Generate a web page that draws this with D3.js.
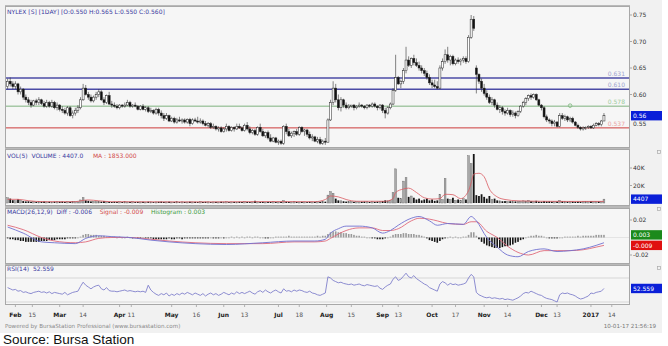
<!DOCTYPE html>
<html>
<head>
<meta charset="utf-8">
<script src="https://cdn.jsdelivr.net/npm/d3@7/dist/d3.min.js"></script>
<style>
body { margin: 0; background: #fff; }
svg { display: block; font-family: "DejaVu Sans", sans-serif; }
</style>
</head>
<body>
<script>
// daily candles, Feb 2016 - 10 Jan 2017 (index = trading day)
var opens = [
.615,.625,.620,.615,.620,.605,.610,.595,.590,.585, .580,.588,.585,.590,.583,.578,.585,.578,.585,.575,
.580,.572,.570,.565,.575,.560,.565,.570,.575,.590, .612,.600,.595,.588,.595,.600,.605,.590,.585,.598,
.582,.580,.578,.575,.580,.578,.580,.585,.578,.580, .578,.572,.578,.572,.575,.568,.570,.565,.572,.565,
.560,.555,.560,.550,.555,.548,.552,.550,.552,.548, .553,.545,.552,.550,.548,.550,.545,.542,.545,.538,
.540,.535,.537,.530,.535,.540,.532,.538,.535,.540, .537,.532,.542,.535,.528,.532,.525,.538,.530,.522,
.528,.518,.512,.518,.510,.512,.508,.540,.530,.522, .527,.530,.525,.538,.530,.533,.525,.518,.520,.512,
.515,.508,.512,.510,.552,.585,.612,.590,.575,.590, .580,.575,.578,.580,.575,.578,.580,.578,.575,.580,
.578,.582,.578,.575,.580,.570,.565,.575,.582,.608, .632,.620,.625,.645,.665,.655,.668,.660,.655,.650,
.645,.640,.632,.622,.618,.615,.612,.650,.662,.675, .665,.672,.658,.665,.662,.665,.668,.662,.708,.742,
.650,.638,.625,.612,.602,.595,.585,.590,.580,.572, .575,.568,.565,.570,.562,.565,.560,.568,.578,.585,
.592,.598,.595,.600,.590,.580,.575,.558,.552,.550, .545,.548,.540,.560,.555,.558,.552,.555,.548,.542,
.538,.535,.537,.538,.540,.537,.542,.545,.543,.550];
var highs = [
.630,.632,.625,.625,.622,.615,.612,.600,.595,.590, .590,.592,.595,.592,.588,.590,.588,.590,.588,.585,
.582,.578,.575,.578,.578,.570,.575,.580,.595,.620, .618,.605,.600,.598,.605,.610,.608,.595,.600,.605,
.588,.585,.582,.582,.582,.585,.590,.588,.582,.585, .580,.580,.582,.578,.578,.575,.572,.575,.575,.570,
.565,.565,.562,.558,.558,.556,.558,.555,.555,.555, .556,.555,.556,.558,.555,.553,.550,.548,.548,.545,
.542,.540,.540,.538,.545,.542,.540,.540,.545,.545, .540,.545,.548,.540,.535,.535,.540,.545,.535,.530,
.532,.525,.520,.520,.515,.515,.542,.545,.535,.530, .532,.535,.540,.540,.535,.535,.530,.525,.522,.520,
.520,.515,.518,.555,.590,.625,.620,.600,.595,.592, .585,.582,.580,.582,.580,.585,.582,.580,.582,.582,
.585,.585,.580,.582,.582,.575,.578,.585,.612,.675, .635,.628,.650,.690,.672,.670,.675,.668,.662,.655,
.650,.645,.638,.628,.628,.625,.655,.668,.685,.690, .675,.675,.668,.670,.668,.672,.672,.712,.750,.748,
.655,.640,.630,.620,.608,.600,.595,.592,.585,.580, .578,.572,.575,.572,.570,.568,.570,.580,.588,.595,
.600,.602,.602,.602,.592,.582,.578,.562,.555,.553, .552,.550,.565,.565,.562,.560,.558,.558,.550,.545,
.540,.540,.540,.542,.542,.545,.548,.548,.552,.565];
var lows = [
.610,.615,.610,.610,.600,.600,.590,.585,.580,.575, .578,.580,.580,.580,.575,.575,.575,.575,.572,.570,
.568,.565,.562,.560,.558,.555,.560,.565,.572,.588, .598,.590,.585,.585,.590,.595,.588,.580,.582,.580,
.575,.575,.572,.572,.575,.575,.578,.575,.575,.576, .570,.570,.570,.568,.565,.565,.562,.562,.560,.555,
.550,.552,.548,.548,.545,.545,.548,.545,.545,.545, .540,.543,.548,.545,.545,.542,.540,.538,.535,.535,
.532,.530,.528,.528,.530,.530,.530,.530,.533,.535, .530,.530,.532,.525,.525,.522,.522,.528,.520,.518,
.515,.510,.510,.508,.505,.505,.505,.525,.520,.518, .520,.522,.522,.528,.522,.520,.515,.512,.510,.508,
.505,.505,.505,.510,.550,.580,.585,.570,.568,.575, .572,.572,.575,.570,.572,.575,.575,.572,.572,.575,
.575,.575,.570,.572,.565,.555,.562,.572,.580,.605, .618,.612,.620,.640,.652,.650,.655,.652,.645,.640,
.635,.628,.618,.612,.612,.610,.610,.645,.658,.660, .655,.655,.655,.658,.655,.660,.658,.660,.705,.720,
.602,.620,.605,.598,.590,.582,.580,.575,.570,.565, .562,.560,.562,.558,.558,.555,.558,.565,.575,.580,
.588,.590,.592,.588,.578,.570,.555,.548,.545,.540, .540,.538,.538,.552,.550,.548,.548,.545,.540,.535,
.532,.532,.533,.535,.535,.535,.540,.540,.540,.550];
var closes = [
.625,.620,.615,.620,.605,.610,.595,.590,.585,.580, .588,.585,.590,.583,.578,.585,.578,.585,.575,.580,
.572,.570,.565,.575,.560,.565,.570,.575,.590,.612, .600,.595,.588,.595,.600,.605,.590,.585,.598,.582,
.580,.578,.575,.580,.578,.580,.585,.578,.580,.578, .572,.578,.572,.575,.568,.570,.565,.572,.565,.560,
.555,.560,.550,.555,.548,.552,.550,.552,.548,.553, .545,.552,.550,.548,.550,.545,.542,.545,.538,.540,
.535,.537,.530,.535,.540,.532,.538,.535,.540,.537, .532,.542,.535,.528,.532,.525,.538,.530,.522,.528,
.518,.512,.518,.510,.512,.508,.540,.530,.522,.527, .530,.525,.538,.530,.533,.525,.518,.520,.512,.515,
.508,.512,.510,.552,.585,.612,.590,.575,.590,.580, .575,.578,.580,.575,.578,.580,.578,.575,.580,.578,
.582,.578,.575,.580,.570,.565,.575,.582,.608,.632, .620,.625,.645,.665,.655,.668,.660,.655,.650,.645,
.640,.632,.622,.618,.615,.612,.650,.662,.675,.665, .672,.658,.665,.662,.665,.668,.662,.708,.742,.725,
.638,.625,.612,.602,.595,.585,.590,.580,.572,.575, .568,.565,.570,.562,.565,.560,.568,.578,.585,.592,
.598,.595,.600,.590,.580,.575,.558,.552,.550,.545, .548,.540,.560,.555,.558,.552,.555,.548,.542,.538,
.535,.537,.538,.540,.537,.542,.545,.543,.550,.560];
var volumes = [
6000,5000,3200,2600,4200,3000,2200,1800,2000,1500, 1700,1400,1600,1500,1800,1300,1500,1200,1600,1400,
1500,1700,1300,1600,1400,1800,1500,1300,3500,6200, 3000,2500,1800,2000,1500,1400,1600,2200,1500,1300,
1200,1500,1300,1400,1100,1600,1200,1300,1500,1100, 1300,1200,1400,1000,1500,1300,1100,1200,1400,1600,
1300,1200,1500,1100,1200,1400,1000,1300,1200,1100, 1500,1200,1300,1100,1600,1200,1400,1300,1000,1200,
1300,1100,1500,1200,1400,1000,1200,1300,1100,1400, 1200,1500,1300,1100,1200,2500,1300,1200,1400,1000,
1300,1200,1500,1100,1200,1400,2800,1600,1300,1200, 1500,1200,1100,1300,1200,1000,1400,1200,1300,1500,
1400,1600,1500,9000,13000,11000,5000,3000,2500,2000, 1600,1500,1800,1400,1600,1300,1500,1700,1400,1200,
1500,1300,1600,1800,2200,3000,2500,3000,12000,39000, 6000,5000,25000,29000,7000,8000,6000,4000,5000,3000,
4000,5000,3000,4000,2500,3000,10000,4000,28000,5000, 4000,6000,3000,4000,3000,5000,4000,54000,45000,56000,
9000,8000,10000,7000,5000,8000,4000,5000,3000,2500, 2000,2200,1800,2000,1500,1800,1600,2000,2500,2200,
3000,2000,1800,2500,1600,1500,2200,1800,2000,1600, 1500,1700,3000,2000,1800,1600,1500,1700,1400,1600,
1500,1800,1600,1400,2000,1700,1500,1800,1600,4407];
// VOL MA(5) read at a few days
var maDays = [0,4,8,14,26,29,31,35,40,60, 80,100,118,122,124,127,130,134,145,148, 149,152,154,157,160,163,166,168,171,174,
  177,178,179,181,183,185,188,191,196,205, 215,229];
var maVals = [4200,4200,2600,1500,1500,3000,3500,2500,1500,1300, 1300,1600,1500,4000,8000,7000,4000,2000,2000,5000,
  12000,16000,17000,12000,6000,4500,5000,10000,9500,5000, 14000,23000,33000,34000,30000,16000,7000,4000,2500,2000, 1800,1853];
// MACD(26,12,9) diff / signal read at a few days
var macdDays = [0,6,13,18,26,30,35,40,47,55, 62,72,84,98,110,118,122,124,127,130, 135,140,144,147,150,155,158,162,165,169,
  175,178,180,184,188,192,196,200,206,211, 216,221,226,229];
var macdDiff = [.012,.005,-.005,-.006,-.007,-.001,.002,.001,0,-.003, -.005,-.007,-.008,-.006,-.004,-.004,-.002,.005,.010,.013,
  .013,.011,.005,.008,.014,.022,.024,.019,.014,.016, .015,.024,.019,0,-.011,-.020,-.022,-.016,-.013,-.016, -.015,-.013,-.009,-.006];
var macdSignal = [.014,.009,0,-.004,-.006,-.005,-.001,0,0,-.002, -.004,-.006,-.007,-.007,-.005,-.005,-.004,-.001,.004,.008,
  .011,.011,.008,.008,.010,.019,.022,.021,.019,.016, .015,.018,.018,.007,0,-.010,-.017,-.020,-.015,-.015, -.015,-.014,-.011,-.009];
var macdHist = [
-.001,-.002,-.002,-.003,-.003,-.004,-.004,-.005,-.005,-.005, -.005,-.005,-.005,-.004,-.004,-.004,-.003,-.003,-.003,-.002,
-.002,-.002,-.002,-.001,-.001,-.001,-.001,0,.001,.003, .004,.004,.003,.003,.003,.002,.002,.002,.001,.001,
.001,.001,0,.001,0,0,.001,0,-.001,0, -.001,-.001,0,-.001,-.001,-.001,-.002,-.002,-.002,-.002,
-.002,-.002,-.001,-.002,-.002,-.001,-.001,-.002,-.001,-.001, -.001,-.001,-.001,-.001,-.001,-.001,-.001,-.001,0,-.001,
-.001,-.001,0,-.001,0,0,.001,0,.001,0, .001,0,.001,.001,0,.001,.001,0,0,-.001,
-.001,0,0,.001,.001,.001,.001,.001,.002,.001, .001,.001,.001,.001,.001,.001,.001,.001,.001,.002,
.001,.002,.002,.004,.006,.007,.007,.006,.006,.005, .005,.004,.004,.003,.002,.002,.001,.001,0,0,
-.001,-.001,-.002,-.002,-.002,-.001,0,.001,.003,.004, .004,.004,.005,.005,.004,.004,.004,.003,.003,.002,
.001,-.001,-.003,-.004,-.005,-.006,-.004,-.002,-.001,0, .001,0,.001,0,0,.001,.001,.003,.006,.006,
.002,-.002,-.005,-.007,-.009,-.010,-.011,-.012,-.012,-.012, -.011,-.010,-.010,-.009,-.008,-.006,-.005,-.003,-.002,0,
.001,.002,.002,.003,.002,.002,.001,0,-.001,-.001, -.001,-.001,0,0,.001,.001,.001,.001,.001,.002,
.001,.002,.002,.002,.002,.002,.003,.003,.003,.003];
var rsi = [
54,52,50,51,48,49,46,47,45,44, 46,47,48,46,47,45,47,44,46,45, 44,43,46,42,44,46,47,48,56,63,
58,55,52,55,57,58,52,50,54,49, 48,48,47,48,49,50,48,49,48,47, 48,47,48,46,58,50,46,43,41,44,
42,45,40,43,41,44,42,45,43,46, 44,42,45,43,41,44,40,43,45,42, 44,41,43,46,44,42,45,43,47,44,
46,44,46,48,45,43,47,49,46,50, 47,45,48,50,47,45,52,48,49,47, 50,48,50,49,47,46,48,45,44,42,
41,43,45,72,70,66,64,62,63,61, 60,59,60,58,59,60,58,57,59,58, 57,56,57,53,51,55,58,60,68,72,
66,68,73,78,72,70,74,69,66,63, 60,58,54,52,50,48,60,64,62,58, 61,59,60,58,59,60,62,70,76,72,
46,42,40,38,37,38,36,37,36,35, 36,34,35,34,33,35,37,40,44,46, 45,48,46,44,42,41,38,36,35,34,
32,30,42,45,44,45,43,42,40,37, 35,36,38,40,45,44,46,47,48,52.559];

// horizontal levels on the price panel
var levels = [0.631, 0.610, 0.578, 0.537];
var levelColors = ["#4b4ba6", "#4b4ba6", "#7fb27f", "#cc3b3b"];
var levelTextColors = ["#9fa3cf", "#9fa3cf", "#9ccc9c", "#eaa3a3"];
var priceTicks = [0.60, 0.65, 0.70, 0.75];
var volTicks = [20000, 40000];
var macdTicks = [0.02, -0.02];

// x axis labels (day index of label centre)
var tickDays = [3,9.5,20,29,43,47.5,63,72.5,83,91,104,112,122.5,132,144,150,163,172,183,192,205,211,224,232];
var tickLabels = ["Feb","15","Mar","14","Apr","11","May","16","Jun","13","Jul","18","Aug","15","Sep","13","Oct","17","Nov","14","Dec","13","2017","14"];

var w = 668, h = 346;
var svg = d3.select("body").append("svg").attr("width", w).attr("height", h);

var x = d3.scaleLinear().domain([-1, 239]).range([5, 630]);
var yPrice = d3.scaleLinear().domain([0.5, 0.75]).range([147.5, 15]);
var yVol = d3.scaleLinear().domain([0, 40000]).range([203, 168]);
var yMacd = d3.scaleLinear().domain([-0.02, 0.02]).range([255, 220]);
var yRsi = d3.scaleLinear().domain([30, 70]).range([302, 278]);

var days = d3.range(closes.length);

// background
svg.append("rect").attr("x", 0).attr("y", 0).attr("width", 662).attr("height", 333).attr("fill", "#f1f1f1");
svg.append("rect").attr("x", 5).attr("y", 5).attr("width", 625).attr("height", 300).attr("fill", "#b9b9b9");

var panels = [[6, 147], [149, 205], [208, 263], [265, 304]];
svg.selectAll("rect.panel")
   .data(panels)
   .enter()
   .append("rect")
   .attr("class", "panel")
   .attr("x", 5.5)
   .attr("y", function(d) { return d[0] + 0.5; })
   .attr("width", 624)
   .attr("height", function(d) { return d[1] - d[0]; })
   .attr("fill", "#f6f6f6")
   .attr("stroke", "#a8a8a8")
   .attr("stroke-width", 1);

// little square icons at the right of the sub panels
svg.selectAll("rect.icon")
   .data([150, 207, 266])
   .enter()
   .append("rect")
   .attr("x", 657.5).attr("y", function(d) { return d + 0.5; })
   .attr("width", 3).attr("height", 3)
   .attr("fill", "none").attr("stroke", "#aaa").attr("stroke-width", 0.7);

// ---------- price panel ----------
svg.selectAll("line.level")
   .data(levels)
   .enter()
   .append("line")
   .attr("x1", 6).attr("x2", 629)
   .attr("y1", function(d) { return yPrice(d); })
   .attr("y2", function(d) { return yPrice(d); })
   .attr("stroke", function(d, i) { return levelColors[i]; })
   .attr("stroke-width", function(d, i) { return i < 2 ? 1.6 : 1; });

svg.selectAll("text.level")
   .data(levels)
   .enter()
   .append("text")
   .text(function(d) { return d.toFixed(3); })
   .attr("x", 625)
   .attr("y", function(d) { return yPrice(d) - 2; })
   .attr("text-anchor", "end")
   .attr("font-size", "6px")
   .attr("fill", function(d, i) { return levelTextColors[i]; });

svg.selectAll("line.wick")
   .data(days)
   .enter()
   .append("line")
   .attr("x1", function(d) { return x(d); })
   .attr("x2", function(d) { return x(d); })
   .attr("y1", function(d) { return yPrice(highs[d]); })
   .attr("y2", function(d) { return yPrice(lows[d]); })
   .attr("stroke", "#333")
   .attr("stroke-width", 0.6);

svg.selectAll("rect.body")
   .data(days)
   .enter()
   .append("rect")
   .attr("x", function(d) { return x(d) - 1; })
   .attr("width", 2)
   .attr("y", function(d) { return yPrice(Math.max(opens[d], closes[d])); })
   .attr("height", function(d) { return Math.max(0.7, Math.abs(yPrice(opens[d]) - yPrice(closes[d]))); })
   .attr("fill", function(d) { return closes[d] >= opens[d] ? "#fff" : "#111"; })
   .attr("stroke", "#222")
   .attr("stroke-width", 0.5);

// green marker on the 0.578 line
svg.append("circle")
   .attr("cx", x(216)).attr("cy", yPrice(0.578) - 0.5).attr("r", 1.8)
   .attr("fill", "none").attr("stroke", "#8bbf8b").attr("stroke-width", 1);

// ---------- volume panel ----------
svg.selectAll("rect.vol")
   .data(days)
   .enter()
   .append("rect")
   .attr("x", function(d) { return x(d) - 0.9; })
   .attr("width", 1.8)
   .attr("y", function(d) { return yVol(volumes[d]); })
   .attr("height", function(d) { return yVol(0) - yVol(volumes[d]); })
   .attr("fill", function(d) { return closes[d] >= opens[d] ? "#a9a9a9" : "#151515"; })
   .attr("stroke", function(d) { return closes[d] >= opens[d] ? "#666" : "none"; })
   .attr("stroke-width", 0.4);

var maLine = d3.line()
   .x(function(d, i) { return x(maDays[i]); })
   .y(function(d) { return yVol(d); })
   .curve(d3.curveMonotoneX);
svg.append("path").attr("d", maLine(maVals)).attr("fill", "none").attr("stroke", "#d9595f").attr("stroke-width", 0.8);

// ---------- MACD panel ----------
svg.append("line").attr("x1", 6).attr("x2", 629).attr("y1", yMacd(0)).attr("y2", yMacd(0))
   .attr("stroke", "#d8d8d8").attr("stroke-width", 0.6);
svg.selectAll("rect.hist")
   .data(days)
   .enter()
   .append("rect")
   .attr("x", function(d) { return x(d) - 0.8; })
   .attr("width", 1.6)
   .attr("y", function(d) { return Math.min(yMacd(0), yMacd(macdHist[d])); })
   .attr("height", function(d) { return Math.max(0.8, Math.abs(yMacd(macdHist[d]) - yMacd(0))); })
   .attr("fill", function(d) { return macdHist[d] >= 0 ? "#9a9a9a" : "#161616"; });

var macdLine = d3.line()
   .x(function(d, i) { return x(macdDays[i]); })
   .y(function(d) { return yMacd(d); })
   .curve(d3.curveMonotoneX);
svg.append("path").attr("d", macdLine(macdSignal)).attr("fill", "none").attr("stroke", "#e06a7a").attr("stroke-width", 0.9);
svg.append("path").attr("d", macdLine(macdDiff)).attr("fill", "none").attr("stroke", "#7070d0").attr("stroke-width", 0.9);

// ---------- RSI panel ----------
svg.selectAll("line.rsiLevel")
   .data([70, 30])
   .enter()
   .append("line")
   .attr("x1", 6).attr("x2", 629)
   .attr("y1", function(d) { return yRsi(d); })
   .attr("y2", function(d) { return yRsi(d); })
   .attr("stroke", "#cfcfcf").attr("stroke-width", 0.8);

var rsiLine = d3.line()
   .x(function(d, i) { return x(i); })
   .y(function(d) { return yRsi(d); });
svg.append("path").attr("d", rsiLine(rsi)).attr("fill", "none").attr("stroke", "#8080cc").attr("stroke-width", 0.9);

// ---------- right hand axis labels ----------
function rightLabel(txt, yy) {
  svg.append("line").attr("x1", 630).attr("x2", 632).attr("y1", yy).attr("y2", yy).attr("stroke", "#777").attr("stroke-width", 0.6);
  svg.append("text").text(txt).attr("x", 633).attr("y", yy + 2.2).attr("font-size", "6px").attr("fill", "#333");
}
priceTicks.forEach(function(d) { rightLabel(d.toFixed(2), yPrice(d)); });
volTicks.forEach(function(d) { rightLabel((d / 1000) + "K", yVol(d)); });
macdTicks.forEach(function(d) { rightLabel(d.toFixed(2), yMacd(d)); });
// 0.55 sits just under the last-price box
svg.append("text").text("0.55").attr("x", 633).attr("y", yPrice(0.55) + 4.6).attr("font-size", "6px").attr("fill", "#333");

function valueBox(txt, yy, color) {
  svg.append("rect").attr("x", 631).attr("y", yy - 4.7).attr("width", 31).attr("height", 9.4).attr("fill", color);
  svg.append("text").text(txt).attr("x", 633).attr("y", yy + 2.2).attr("font-size", "6px").attr("fill", "#fff");
}
valueBox("0.56", yPrice(closes[closes.length - 1]), "#0a1fd8");
valueBox("4407", yVol(volumes[volumes.length - 1]), "#0a1fd8");
valueBox("0.003", yMacd(macdHist[macdHist.length - 1]), "#1b8a1b");
valueBox("-0.009", yMacd(macdSignal[macdSignal.length - 1]), "#e01010");
valueBox("52.559", yRsi(rsi[rsi.length - 1]), "#0a1fd8");

// ---------- panel titles ----------
function title(parts, yy) {
  var t = svg.append("text").attr("x", 7).attr("y", yy).attr("font-size", "6px");
  parts.forEach(function(p) {
    t.append("tspan").text(p[0]).attr("fill", p[1]).attr("xml:space", "preserve");
  });
}
title([["NYLEX [S] [1DAY] [O:0.550 H:0.565 L:0.550 C:0.560]", "#3a3aa0"]], 14);
title([["VOL(5)  VOLUME : 4407.0     ", "#3a3aa0"], ["MA : 1853.000", "#d24a4a"]], 157.5);
title([["MACD(26,12,9)  Diff : -0.006    ", "#3a3aa0"], ["Signal : -0.009    ", "#d24a4a"], ["Histogram : 0.003", "#3c9a3c"]], 214);
title([["RSI(14)  52.559", "#3a3aa0"]], 271);

// ---------- x axis ----------
svg.selectAll("line.xtick")
   .data(tickDays)
   .enter()
   .append("line")
   .attr("x1", function(d) { return x(d); })
   .attr("x2", function(d) { return x(d); })
   .attr("y1", 305).attr("y2", 307)
   .attr("stroke", "#888").attr("stroke-width", 0.6);

svg.selectAll("text.xlab")
   .data(tickLabels)
   .enter()
   .append("text")
   .text(function(d) { return d; })
   .attr("x", function(d, i) { return x(tickDays[i]); })
   .attr("y", 317)
   .attr("text-anchor", "middle")
   .attr("font-size", "6px")
   .attr("font-weight", function(d) { return isNaN(+d) || d == "2017" ? "bold" : "normal"; })
   .attr("fill", function(d) { return isNaN(+d) || d == "2017" ? "#222" : "#555"; });

svg.append("text").text("Powered by BursaStation Professional (www.bursastation.com)")
   .attr("x", 5).attr("y", 327.5).attr("font-size", "5.6px").attr("fill", "#8a8a8a");
svg.append("text").text("10-01-17 21:56:19")
   .attr("x", 656).attr("y", 327.5).attr("text-anchor", "end").attr("font-size", "5.6px").attr("fill", "#777");

svg.append("text").text("Source: Bursa Station")
   .attr("x", 3).attr("y", 343.5)
   .attr("font-family", "'Liberation Sans', Arial, sans-serif")
   .attr("font-size", "13.5px").attr("fill", "#111");
</script>
</body>
</html>
